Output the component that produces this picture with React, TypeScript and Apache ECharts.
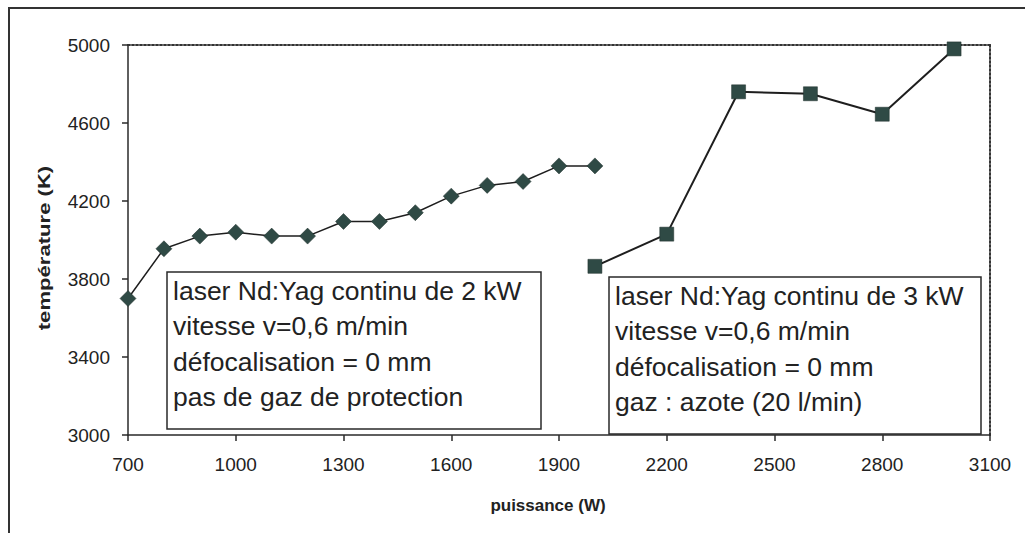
import React, { useEffect, useRef } from "react";
import * as echarts from "echarts";

const powerA = [700, 800, 900, 1000, 1100, 1200, 1300, 1400, 1500, 1600, 1700, 1800, 1900, 2000];
const tempA = [3700, 3955, 4020, 4040, 4020, 4020, 4095, 4095, 4140, 4225, 4280, 4300, 4380, 4380];
const powerB = [2000, 2200, 2400, 2600, 2800, 3000];
const tempB = [3865, 4030, 4760, 4750, 4645, 4980];

const xTitle = "puissance (W)";
const yTitle = "température (K)";

const boxA = [
  "laser Nd:Yag continu de 2 kW",
  "vitesse v=0,6 m/min",
  "défocalisation = 0 mm",
  "pas de gaz de protection",
];
const boxB = [
  "laser Nd:Yag continu de 3 kW",
  "vitesse v=0,6 m/min",
  "défocalisation = 0 mm",
  "gaz : azote (20 l/min)",
];

const FONT = "Arial, 'Liberation Sans', sans-serif";
const INK = "#2a2a2a";
const MARK = "#2f4a45";

export default function App() {
  const ref = useRef<HTMLDivElement>(null);
  useEffect(() => {
    if (!ref.current) return;
    const chart = echarts.init(ref.current, undefined, { renderer: "svg" });
    const box = (x: number, y: number, w: number, h: number, lines: string[]) => ({
      type: "group",
      children: [
        {
          type: "rect",
          shape: { x, y, width: w, height: h },
          style: { fill: "#fff", stroke: INK, lineWidth: 1.5 },
          z: 10,
        },
        {
          type: "text",
          x: x + 6,
          y: y + 1,
          z: 11,
          style: {
            text: lines.join("\n"),
            fontSize: 26.5,
            lineHeight: 35.5,
            fontFamily: FONT,
            fill: "#222",
          },
        },
      ],
    });
    chart.setOption({
      animation: false,
      backgroundColor: "#fff",
      grid: { left: 128, top: 45, right: 35, bottom: 98, show: false },
      xAxis: [
        {
          type: "value",
          min: 700,
          max: 3100,
          interval: 300,
          position: "bottom",
          axisLine: { show: true, onZero: false, lineStyle: { color: INK, width: 1.5 } },
          axisTick: { show: true, length: 6, lineStyle: { color: INK, width: 1.5 } },
          axisLabel: {
            margin: 20,
            fontSize: 19,
            color: "#222",
            fontFamily: FONT,
            formatter: (v: number) => String(v),
          },
          splitLine: { show: false },
          name: xTitle,
          nameLocation: "middle",
          nameGap: 62,
          nameTextStyle: {
            fontSize: 17,
            fontWeight: "bold",
            color: "#222",
            fontFamily: FONT,
            padding: [0, 22, 0, 0],
          },
        },
        {
          type: "value",
          min: 700,
          max: 3100,
          position: "top",
          axisLine: { show: true, onZero: false, lineStyle: { color: "#333", width: 2, type: "dotted" } },
          axisTick: { show: false },
          axisLabel: { show: false },
          splitLine: { show: false },
        },
      ],
      yAxis: [
        {
          type: "value",
          min: 3000,
          max: 5000,
          interval: 400,
          position: "left",
          axisLine: { show: true, onZero: false, lineStyle: { color: INK, width: 1.5 } },
          axisTick: { show: true, length: 6, lineStyle: { color: INK, width: 1.5 } },
          axisLabel: {
            margin: 18,
            fontSize: 19,
            color: "#222",
            fontFamily: FONT,
            formatter: (v: number) => String(v),
          },
          splitLine: { show: false },
        },
        {
          type: "value",
          min: 3000,
          max: 5000,
          position: "right",
          axisLine: { show: true, onZero: false, lineStyle: { color: "#333", width: 2, type: "dotted" } },
          axisTick: { show: false },
          axisLabel: { show: false },
          splitLine: { show: false },
        },
      ],
      series: [
        {
          type: "line",
          xAxisIndex: 0,
          yAxisIndex: 0,
          data: powerA.map((p, i) => [p, tempA[i]]),
          symbol: "diamond",
          symbolSize: 16,
          lineStyle: { color: "#1e1e1e", width: 1.5 },
          itemStyle: { color: MARK, borderColor: "#1e2e2b", borderWidth: 0.5 },
          z: 5,
        },
        {
          type: "line",
          xAxisIndex: 0,
          yAxisIndex: 0,
          data: powerB.map((p, i) => [p, tempB[i]]),
          symbol: "rect",
          symbolSize: 14,
          lineStyle: { color: "#1e1e1e", width: 2 },
          itemStyle: { color: MARK, borderColor: "#1e2e2b", borderWidth: 0.5 },
          z: 5,
        },
      ],
      graphic: [
        {
          type: "rect",
          shape: { x: 9, y: 8, width: 1040, height: 560 },
          style: { fill: "none", stroke: "#333", lineWidth: 2 },
          z: 1,
        },
        {
          type: "text",
          x: 44,
          y: 248,
          rotation: Math.PI / 2,
          scaleX: 1.3,
          z: 5,
          style: {
            text: yTitle,
            fontSize: 17,
            fontWeight: "bold",
            fontFamily: FONT,
            fill: "#222",
            align: "center",
            verticalAlign: "middle",
          },
        },
        box(167, 272, 374, 157, boxA),
        box(609, 277, 372, 157, boxB),
      ],
    });
    return () => chart.dispose();
  }, []);
  return (
    <div
      ref={ref}
      style={{ position: "fixed", left: 0, top: 0, width: 1025, height: 533, background: "#fff" }}
    />
  );
}
